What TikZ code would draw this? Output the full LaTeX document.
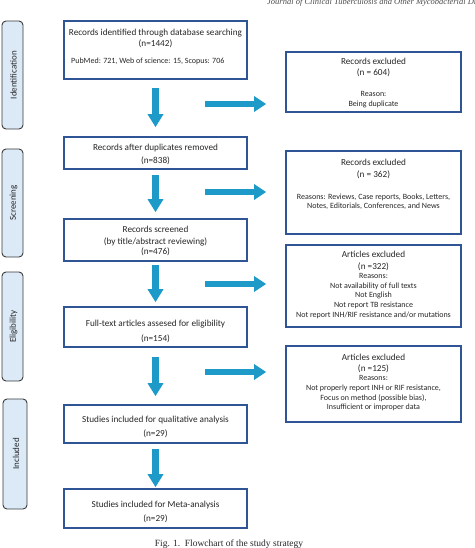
\documentclass[tikz,border=0pt]{standalone}
\usepackage{fontspec}
\setmainfont{Carlito}
\newfontfamily\capserif{Liberation Serif}
\usetikzlibrary{arrows.meta}
\definecolor{boxblue}{HTML}{2F5597}
\definecolor{arrowblue}{HTML}{1E9AC9}
\definecolor{sidefill}{HTML}{DCEAF8}
\definecolor{sideline}{HTML}{3A3A3A}
\definecolor{txtcol}{HTML}{262626}
\begin{document}
\begin{tikzpicture}[x=1pt,y=-1pt,
  box/.style={draw=boxblue,line width=1.6pt,inner sep=0pt},
  mainbox/.style={box,minimum width=183pt},
  exbox/.style={box,minimum width=175pt},
  side/.style={draw=sideline,fill=sidefill,line width=0.9pt,rounded corners=4pt,inner sep=0pt,minimum width=21pt},
  sidelabel/.style={rotate=90,inner sep=0pt,text=txtcol,font=\fontsize{9}{10}\selectfont},
  t/.style={anchor=base,inner sep=0pt,text=txtcol,font=\fontsize{9.2}{11}\selectfont},
  ts/.style={t,font=\fontsize{8}{9}\selectfont},
  flow/.style={draw=arrowblue,line width=7pt,-{Triangle[width=15pt,length=13pt]}},
  hflow/.style={draw=arrowblue,line width=6pt,-{Triangle[width=15pt,length=12pt]}},
]
\useasboundingbox (0,0) rectangle (474,548);

% running header (cut at top, as in the source page)
\node[anchor=base west,inner sep=0pt,text=black!70,font=\capserif\itshape\fontsize{8.5}{9}\selectfont] (hdr) at (267,5) {Journal of Clinical Tuberculosis and Other Mycobacterial Diseases};

% side bars
\node[side,minimum height=108pt] (s1) at (12.5,75) {};
\node[sidelabel] (s1t) at (13.5,75) {Identification};
\node[side,minimum height=108pt] (s2) at (12.5,203) {};
\node[sidelabel] (s2t) at (13.5,203) {Screening};
\node[side,minimum height=109pt] (s3) at (12.5,326.5) {};
\node[sidelabel] (s3t) at (13.5,326.5) {Eligibility};
\node[side,minimum width=24pt,minimum height=110pt] (s4) at (15,454) {};
\node[sidelabel] (s4t) at (16,454) {Included};

% main boxes
\node[mainbox,minimum height=58pt] (b1) at (155.5,50) {};
\node[t] (b1a) at (155.5,36) {Records identified through database searching};
\node[t] (b1b) at (155.5,47) {(n=1442)};
\node[ts,anchor=base west] (b1c) at (71,64) {PubMed: 721, Web of science: 15, Scopus: 706};

\node[mainbox,minimum height=32pt] (b2) at (155.5,153) {};
\node[t] (b2a) at (155.5,150) {Records after duplicates removed};
\node[t] (b2b) at (155.5,164) {(n=838)};

\node[mainbox,minimum height=42pt] (b3) at (155.5,240) {};
\node[t] (b3a) at (155.5,232) {Records screened};
\node[t] (b3b) at (155.5,244) {(by title/abstract reviewing)};
\node[t] (b3c) at (155.5,254) {(n=476)};

\node[mainbox,minimum height=40pt] (b4) at (155.5,327) {};
\node[t] (b4a) at (155.5,326) {Full-text articles assesed for eligibility};
\node[t] (b4b) at (155.5,341) {(n=154)};

\node[mainbox,minimum height=38pt] (b5) at (155.5,424) {};
\node[t] (b5a) at (155.5,422) {Studies included for qualitative analysis};
\node[t] (b5b) at (155.5,436) {(n=29)};

\node[mainbox,minimum height=39pt] (b6) at (155.5,508.5) {};
\node[t] (b6a) at (155.5,507) {Studies included for Meta-analysis};
\node[t] (b6b) at (155.5,521) {(n=29)};

% exclusion boxes
\node[exbox,minimum height=60pt] (e1) at (373.5,82) {};
\node[t] (e1a) at (373.5,65) {Records excluded};
\node[t] (e1b) at (373.5,75.5) {(n = 604)};
\node[ts] (e1c) at (373.5,97) {Reason:};
\node[ts] (e1d) at (373.5,107) {Being duplicate};

\node[exbox,minimum height=83pt] (e2) at (373.5,192.5) {};
\node[t] (e2a) at (373.5,166) {Records excluded};
\node[t] (e2b) at (373.5,177) {(n = 362)};
\node[ts] (e2c) at (373.5,199) {Reasons: Reviews, Case reports, Books, Letters,};
\node[ts] (e2d) at (373.5,208) {Notes, Editorials, Conferences, and News};

\node[exbox,minimum height=82pt] (e3) at (373.5,286) {};
\node[t] (e3a) at (373.5,257) {Articles excluded};
\node[t] (e3b) at (373.5,269) {(n =322)};
\node[ts] (e3c) at (373.5,278) {Reasons:};
\node[ts] (e3d) at (373.5,288) {Not availability of full texts};
\node[ts] (e3e) at (373.5,297) {Not English};
\node[ts] (e3f) at (373.5,307) {Not report TB resistance};
\node[ts] (e3g) at (373.5,317) {Not report INH/RIF resistance and/or mutations};

\node[exbox,minimum height=76pt] (e4) at (373.5,384) {};
\node[t] (e4a) at (373.5,360) {Articles excluded};
\node[t] (e4b) at (373.5,371) {(n =125)};
\node[ts] (e4c) at (373.5,380) {Reasons:};
\node[ts] (e4d) at (373.5,390) {Not properly report INH or RIF resistance,};
\node[ts] (e4e) at (373.5,400) {Focus on method (possible bias),};
\node[ts] (e4f) at (373.5,409) {Insufficient or improper data};

% vertical flow arrows
\draw[flow,shorten <=8pt,shorten >=9pt] (b1.south) -- (b2.north);
\draw[flow,shorten <=5pt,shorten >=6pt] (b2.south) -- (b3.north);
\draw[flow,shorten <=3pt,shorten >=4pt] (b3.south) -- (b4.north);
\draw[flow,shorten <=9pt,shorten >=8pt] (b4.south) -- (b5.north);
\draw[flow,shorten <=5pt,shorten >=1pt] (b5.south) -- (b6.north);

% horizontal arrows
\coordinate (h1) at (205,104);
\coordinate (h2) at (205,192);
\coordinate (h3) at (205,284);
\coordinate (h4) at (205,372);
\draw[hflow,shorten >=19pt] (h1) -- (h1 -| e1.west);
\draw[hflow,shorten >=19pt] (h2) -- (h2 -| e2.west);
\draw[hflow,shorten >=19pt] (h3) -- (h3 -| e3.west);
\draw[hflow,shorten >=19pt] (h4) -- (h4 -| e4.west);

% caption
\node[anchor=base,inner sep=0pt,text=black!85,font=\capserif\fontsize{9.5}{10}\selectfont] (cap) at (229,546.5) {Fig. 1.\ \ Flowchart of the study strategy};
\end{tikzpicture}
\end{document}
